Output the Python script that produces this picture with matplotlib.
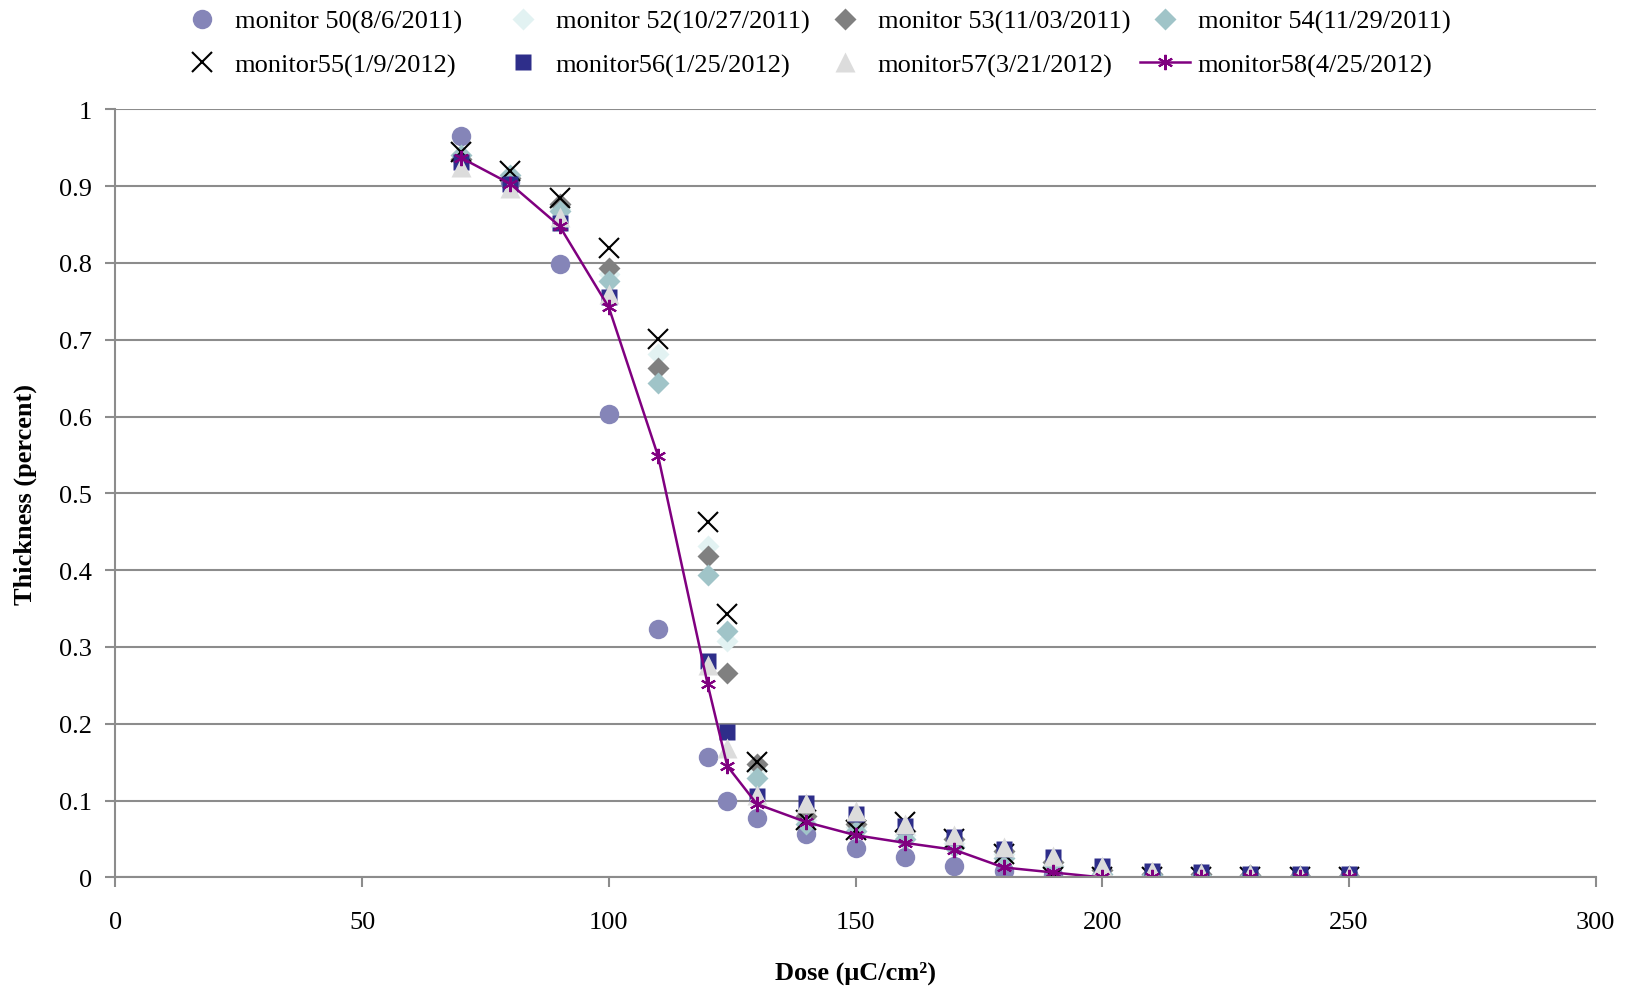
import matplotlib
matplotlib.use("Agg")
import matplotlib.pyplot as plt
from matplotlib.ticker import FuncFormatter

plt.rcParams['font.family'] = ['Liberation Serif', 'DejaVu Serif']

nan = float('nan')

dose = [70, 80, 90, 100, 110, 120, 124, 130, 140, 150, 160, 170, 180, 190, 200, 210, 220, 230, 240, 250]

m50 = [0.965, 0.905, 0.798, 0.603, 0.323, 0.157, 0.100, 0.077, 0.057, 0.038, 0.027, 0.015, 0.008, 0.003, 0, 0, 0, 0, 0, 0]
m52 = [0.935, 0.910, 0.870, 0.785, 0.681, 0.432, 0.308, 0.140, 0.075, 0.065, 0.055, 0.045, 0.030, 0.020, 0.010, 0.005, 0.004, 0.003, 0.002, 0.002]
m53 = [0.935, 0.910, 0.877, 0.793, 0.663, 0.418, 0.266, 0.148, 0.080, 0.070, 0.060, 0.050, 0.035, 0.020, 0.010, 0.005, 0.004, 0.003, 0.002, 0.002]
m54 = [0.940, 0.915, 0.868, 0.777, 0.643, 0.394, 0.321, 0.130, 0.070, 0.060, 0.050, 0.040, 0.025, 0.015, 0.005, 0.003, 0.002, 0.002, 0.001, 0.001]
m55 = [0.944, 0.920, 0.884, 0.819, 0.701, 0.463, 0.343, 0.150, 0.075, 0.062, 0.072, 0.050, 0.030, 0.0, 0, 0, 0, 0, 0, 0]
m56 = [0.931, 0.903, 0.852, 0.755, nan, 0.282, 0.189, 0.106, 0.097, 0.083, 0.067, 0.052, 0.037, 0.026, 0.015, 0.009, 0.007, 0.005, 0.004, 0.004]
m57 = [0.925, 0.897, 0.860, 0.760, nan, 0.277, 0.169, 0.107, 0.097, 0.086, 0.070, 0.055, 0.040, 0.028, 0.015, 0.008, 0.006, 0.005, 0.003, 0.003]
m58 = [0.937, 0.903, 0.848, 0.742, 0.548, 0.252, 0.145, 0.0955, 0.072, 0.055, 0.045, 0.036, 0.013, 0.0065, 0, 0, 0, 0, 0, 0]

fig = plt.figure(figsize=(16.30, 9.87), dpi=100)
ax = fig.add_axes([0.0708, 0.110, 0.9082, 0.7783])

h = []
h += ax.plot(dose, m50, 'o', ls='none', ms=14, color='#8585b8', mec='none', label='monitor 50(8/6/2011)')
h += ax.plot(dose, m52, 'D', ls='none', ms=11.5, color='#e2f2f2', mec='none', label='monitor 52(10/27/2011)')
h += ax.plot(dose, m53, 'D', ls='none', ms=11.5, color='#808080', mec='none', label='monitor 53(11/03/2011)')
h += ax.plot(dose, m54, 'D', ls='none', ms=11.5, color='#a0c4c8', mec='none', label='monitor 54(11/29/2011)')
h += ax.plot(dose, m55, 'x', ls='none', ms=15, color='black', mew=1.5, label='monitor55(1/9/2012)')
h += ax.plot(dose, m56, 's', ls='none', ms=12, color='#2e2e8a', mec='none', label='monitor56(1/25/2012)')
h += ax.plot(dose, m57, '^', ls='none', ms=14, color='#dcdcdc', mec='none', label='monitor57(3/21/2012)')
h += ax.plot(dose, m58, marker=(6, 2, 0), ms=11, color='#800080', mew=1.5, lw=1.8, label='monitor58(4/25/2012)')

ax.set_xlim(0, 300)
ax.set_ylim(0, 1)
ax.set_xticks(range(0, 301, 50))
ax.set_yticks([i / 10 for i in range(11)])
ax.yaxis.set_major_formatter(FuncFormatter(lambda v, p: '%g' % round(v, 1)))
ax.grid(axis='y', color='#8c8c8c', lw=1.5)
ax.set_axisbelow(True)
for s in ['top', 'right']:
    ax.spines[s].set_visible(False)
for s in ['left', 'bottom']:
    ax.spines[s].set_color('#8c8c8c')
    ax.spines[s].set_linewidth(1.5)
ax.tick_params(colors='#8c8c8c', width=1.5, length=7, labelcolor='black', labelsize=19)
ax.tick_params(axis='y', pad=10)
ax.tick_params(axis='x', pad=17)

ax.set_xlabel('Dose (μC/cm²)', fontsize=19, fontweight='bold', labelpad=20)
ax.set_ylabel('Thickness (percent)', fontsize=19, fontweight='bold', labelpad=16)

# one small legend per column so the columns are evenly spaced
col_left = [166, 487, 809, 1129]
for c in range(4):
    leg = fig.legend([h[c], h[c + 4]], [h[c].get_label(), h[c + 4].get_label()],
                     loc='upper left', bbox_to_anchor=(col_left[c] / 1630, 1.0),
                     borderaxespad=0.0, frameon=False, fontsize=19,
                     handletextpad=0.3, handlelength=1.9, labelspacing=0.75)

fig.savefig('out.png', dpi=100)
